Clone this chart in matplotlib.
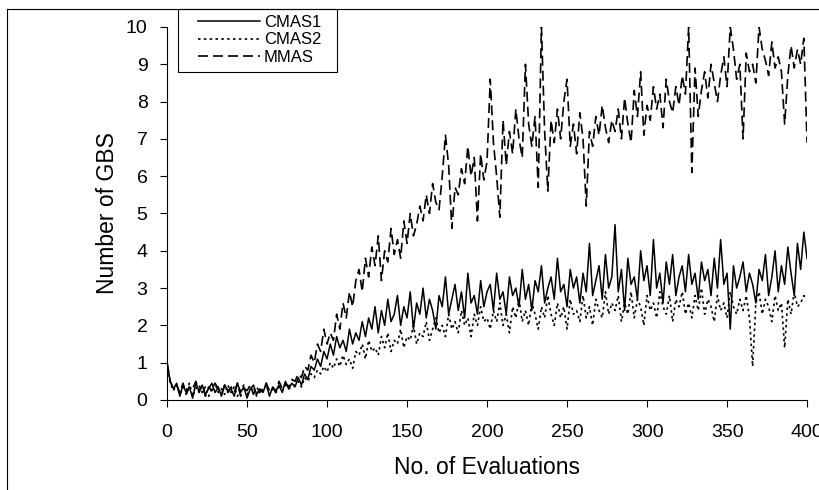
import numpy as np
import matplotlib
matplotlib.use("Agg")
import matplotlib.pyplot as plt
from matplotlib.lines import Line2D
from matplotlib.patches import Rectangle

plt.rcParams['font.family'] = ['Liberation Sans', 'DejaVu Sans']

# evaluations sampled every 2 steps
evals = np.arange(0, 401, 2)

cmas1 = [
    1.0, 0.5, 0.3, 0.45, 0.1, 0.4, 0.2, 0.35, 0.05, 0.45, 0.25, 0.4, 0.15, 0.3, 0.45, 0.2, 0.35, 0.1, 0.4, 0.25,
    0.3, 0.1, 0.45, 0.2, 0.35, 0.05, 0.3, 0.4, 0.15, 0.3, 0.2, 0.45, 0.1, 0.35, 0.25, 0.4, 0.2, 0.5, 0.3, 0.45,
    0.35, 0.6, 0.4, 0.7, 0.55, 0.9, 0.8, 1.1, 0.9, 1.3, 1.1, 1.5, 1.2, 1.7, 1.4, 1.6, 1.3, 1.9, 1.5, 1.8,
    1.6, 2.1, 1.7, 2.2, 1.9, 2.5, 1.8, 2.4, 2.0, 2.7, 2.1, 2.3, 2.8, 2.0, 2.5, 2.2, 2.9, 1.9, 2.6, 2.3,
    3.0, 2.2, 2.7, 2.4, 1.9, 2.8, 2.5, 3.3, 2.3, 2.7, 3.1, 2.4, 2.9, 2.2, 3.4, 2.6, 2.8, 2.3, 3.2, 2.5,
    2.9, 3.1, 2.4, 3.4, 2.7, 2.9, 2.3, 3.3, 2.8, 3.0, 2.5, 3.5, 2.7, 3.1, 2.4, 3.2, 2.9, 3.6, 2.6, 3.0,
    3.3, 2.7, 3.8, 2.9, 3.1, 2.5, 3.5, 3.0, 3.3, 2.6, 3.4, 2.9, 4.2, 2.8, 3.2, 3.6, 2.7, 3.9, 3.0, 3.3,
    4.7, 2.9, 3.5, 2.4, 3.8, 3.1, 3.3, 2.7, 4.0, 3.2, 3.6, 2.8, 4.3, 3.0, 3.4, 2.6, 3.7, 3.1, 3.9, 2.8,
    3.3, 3.6, 2.9, 3.9, 3.1, 3.4, 2.7, 3.7, 3.2, 3.5, 2.8, 3.8, 3.0, 4.3, 3.1, 3.4, 1.9, 3.6, 3.0, 3.3,
    3.7, 2.9, 3.4, 3.1, 2.6, 3.5, 3.2, 3.9, 2.8, 3.3, 4.0, 2.9, 3.6, 3.1, 4.1, 3.4, 2.8, 4.2, 3.5, 4.5,
    3.8,
]

cmas2 = [
    1.0, 0.45, 0.25, 0.4, 0.15, 0.35, 0.25, 0.45, 0.1, 0.3, 0.4, 0.2, 0.35, 0.1, 0.3, 0.45, 0.2, 0.3, 0.15, 0.4,
    0.2, 0.35, 0.1, 0.3, 0.4, 0.15, 0.25, 0.35, 0.1, 0.3, 0.25, 0.4, 0.15, 0.3, 0.2, 0.35, 0.25, 0.4, 0.3, 0.35,
    0.4, 0.5, 0.35, 0.6, 0.5, 0.7, 0.6, 0.8, 0.7, 0.9, 0.75, 1.0, 0.85, 1.1, 0.9, 1.2, 0.95, 1.1, 0.85, 1.3,
    1.2, 1.5, 1.1, 1.6, 1.3, 1.4, 1.2, 1.7, 1.4, 1.8, 1.3, 1.6, 1.5, 1.9, 1.4, 1.7, 1.6, 2.0, 1.5, 1.8,
    1.7, 2.1, 1.6, 1.9, 2.2, 1.8, 2.0, 1.7, 2.3, 1.9, 2.1, 1.8, 2.4, 2.0, 2.2, 1.7, 2.3, 2.0, 2.5, 2.1,
    2.2, 1.9, 2.4, 2.1, 2.6, 2.0, 2.3, 1.8, 2.5, 2.2, 2.7, 2.1, 2.4, 2.0, 2.6, 2.3, 1.9, 2.5, 2.2, 2.8,
    2.3, 2.0, 2.6, 2.2, 2.5, 1.9, 2.7, 2.3, 2.4, 2.1, 2.8, 2.2, 2.5, 2.0, 2.7, 2.4, 2.2, 2.9, 2.3, 2.6,
    2.4, 2.8, 2.1, 2.6, 2.3, 2.9, 2.2, 2.7, 2.5, 2.0, 2.8, 2.4, 2.6, 2.2, 2.9, 2.5, 2.3, 2.8, 2.1, 2.7,
    2.5, 2.9, 2.3, 2.6, 2.2, 2.8, 2.4, 3.0, 2.3, 2.7, 2.5, 2.1, 2.8, 2.4, 2.6, 2.2, 2.9, 2.5, 2.3, 2.7,
    2.4, 2.8, 2.2, 0.9, 2.6, 2.9, 2.3, 2.7, 2.5, 2.1, 2.8, 2.4, 2.6, 1.4, 2.7, 2.3, 2.9, 2.5, 2.6, 2.8,
    2.7,
]

mmas = [
    1.0, 0.5, 0.3, 0.4, 0.2, 0.45, 0.15, 0.35, 0.3, 0.5, 0.2, 0.4, 0.1, 0.35, 0.25, 0.45, 0.3, 0.15, 0.4, 0.2,
    0.35, 0.2, 0.45, 0.1, 0.3, 0.25, 0.4, 0.15, 0.35, 0.2, 0.3, 0.45, 0.25, 0.35, 0.2, 0.5, 0.3, 0.45, 0.35, 0.55,
    0.5, 0.7, 0.6, 0.9, 0.8, 1.2, 1.0, 1.5, 1.3, 1.9, 1.5, 1.8, 1.6, 2.3, 1.9, 2.6, 2.2, 2.9, 2.5, 3.2,
    3.5, 2.9, 3.8, 3.3, 4.1, 3.6, 4.4, 3.2, 4.0, 3.7, 4.6, 3.9, 4.3, 3.8, 4.8, 4.2, 5.0, 4.4, 4.7, 5.2,
    4.8, 5.5, 5.0, 5.8, 5.3, 5.1, 6.0, 7.1, 6.3, 4.6, 5.7, 5.5, 6.2, 5.8, 6.8, 6.0, 6.5, 4.8, 6.6, 5.9,
    6.4, 8.6, 6.9, 6.0, 4.9, 7.5, 6.3, 7.2, 6.6, 7.8, 7.0, 6.5, 9.0, 7.4, 6.8, 7.6, 5.7, 10.0, 7.2, 5.6,
    7.5, 6.9, 7.8, 7.0, 8.0, 8.6, 6.8, 7.4, 6.6, 7.7, 7.0, 5.2, 7.2, 6.8, 7.6, 7.1, 7.9, 7.3, 6.9, 7.5,
    7.2, 7.8, 7.0, 8.1, 7.4, 6.9, 8.3, 7.6, 8.8, 7.1, 7.9, 7.5, 8.4, 7.8, 8.2, 7.3, 8.6, 8.0, 7.7, 8.4,
    7.9, 8.7, 8.2, 10.0, 6.1, 8.9, 7.6, 8.3, 8.8, 8.1, 9.0, 8.5, 8.0, 8.7, 9.2, 8.4, 10.0, 9.4, 8.6, 9.0,
    7.0, 9.3, 8.8, 9.0, 8.5, 10.0, 9.4, 9.1, 8.7, 9.6, 8.9, 9.2, 8.8, 7.4, 8.7, 9.5, 8.9, 9.4, 9.0, 9.7,
    6.9,
]

fig = plt.figure(figsize=(8.2, 4.9), dpi=100)
ax = fig.add_axes([0.2037, 0.1837, 0.7805, 0.7612])

ax.plot(evals, cmas1, color='black', lw=1.1, ls='-', label='CMAS1')
ax.plot(evals, cmas2, color='black', lw=1.2, ls=(0, (1.5, 2)), label='CMAS2')
ax.plot(evals, mmas, color='black', lw=1.2, ls=(0, (6, 3)), label='MMAS')

ax.set_xlim(0, 400)
ax.set_ylim(0, 10)
ax.set_xticks(range(0, 401, 50))
ax.set_yticks(range(0, 11))
ax.spines['top'].set_visible(False)
ax.spines['right'].set_visible(False)
ax.tick_params(axis='both', labelsize=14, length=5, width=0.8)
ax.tick_params(axis='x', pad=12)
ax.tick_params(axis='y', pad=9)
ax.set_xlabel('No. of Evaluations', fontsize=16.5, labelpad=11)
ax.set_ylabel('Number of GBS', fontsize=16.5, labelpad=5)

# legend entries without frame, box drawn separately
leg = ax.legend(loc='upper left', bbox_to_anchor=(198 / 820, 1 - 15 / 490),
                bbox_transform=fig.transFigure, frameon=False, fontsize=12,
                handlelength=3.7, labelspacing=0.15, borderpad=0,
                borderaxespad=0, handletextpad=0.25)
fig.add_artist(Rectangle((178 / 820, 1 - 72 / 490), 159 / 820, 63 / 490,
                         transform=fig.transFigure, fill=False,
                         edgecolor='black', lw=0.8))

# outer chart frame (top and left edges)
fig.add_artist(Line2D([0.0085, 1.0], [0.9816, 0.9816], color='black', lw=0.8))
fig.add_artist(Line2D([0.0085, 0.0085], [0.0, 0.9816], color='black', lw=0.8))

fig.savefig('out.png', dpi=100)
